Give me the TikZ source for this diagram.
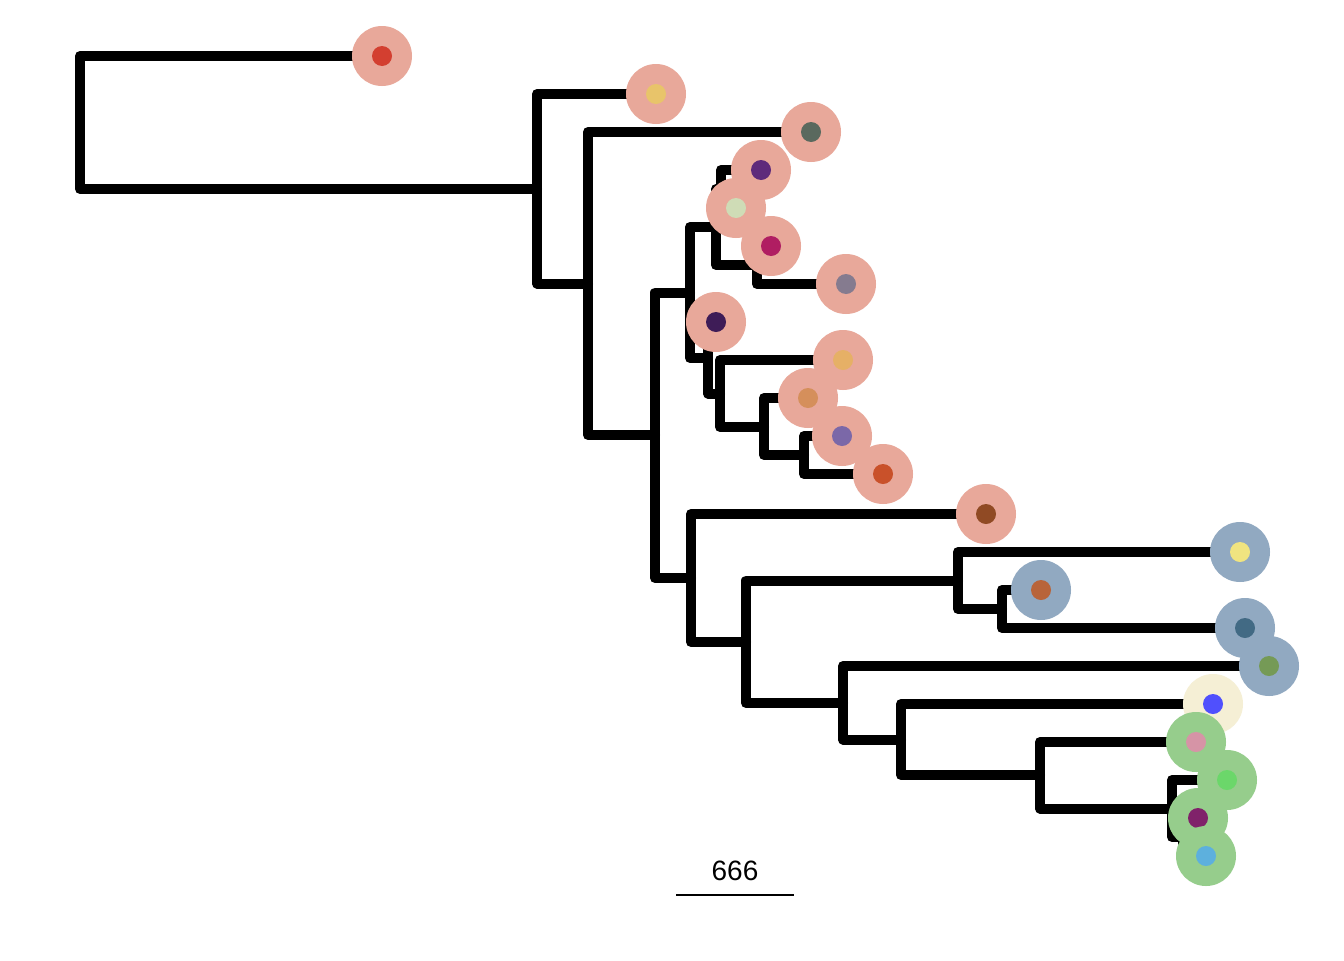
\documentclass[tikz,border=0pt]{standalone}
\usepackage{fontspec}
\setmainfont{Liberation Sans}
\definecolor{haloRed}{HTML}{E8A89A}
\definecolor{haloBlue}{HTML}{91A9C1}
\definecolor{haloCream}{HTML}{F5EFD5}
\definecolor{haloGreen}{HTML}{96CD8C}
\tikzset{
  branch/.style={line width=7.5pt, line join=round, line cap=round, black},
  tip/.style 2 args={circle, fill=#1, minimum size=45pt, inner sep=0pt,
    path picture={\definecolor{dotcol}{HTML}{#2}%
      \fill[fill=dotcol] (path picture bounding box.center) circle (7.5pt);}},
}
\begin{document}
\begin{tikzpicture}[x=0.75pt, y=-0.75pt]
\useasboundingbox[fill=white] (0,0) rectangle (1344,960);

% internal nodes of the tree
\coordinate (root) at (80,122.5);
\coordinate (nA) at (537,189);
\coordinate (nB) at (588,283.5);
\coordinate (nC) at (655,435);
\coordinate (nD) at (690,292.5);
\coordinate (nE) at (716,227);
\coordinate (nF) at (708,358);
\coordinate (nG) at (721,189);
\coordinate (nH) at (757,265);
\coordinate (nI) at (720,393.5);
\coordinate (nJ) at (764,427);
\coordinate (nK) at (804,455);
\coordinate (nL) at (691,578);
\coordinate (nM) at (746,642);
\coordinate (nN) at (958,580.5);
\coordinate (nO) at (1002,609);
\coordinate (nP) at (843,703);
\coordinate (nQ) at (901,739.5);
\coordinate (nR) at (1040,775);
\coordinate (nS) at (1172,808.5);
\coordinate (nT) at (1183,837);

% leaves
\coordinate (l1) at (382,56);
\coordinate (l2) at (656,94);
\coordinate (l3) at (811,132);
\coordinate (l4) at (761,170);
\coordinate (l5) at (736,208);
\coordinate (l6) at (771,246);
\coordinate (l7) at (846,284);
\coordinate (l8) at (716,322);
\coordinate (l9) at (843,360);
\coordinate (l10) at (808,398);
\coordinate (l11) at (842,436);
\coordinate (l12) at (883,474);
\coordinate (l13) at (986,514);
\coordinate (l14) at (1240,552);
\coordinate (l15) at (1041,590);
\coordinate (l16) at (1245,628);
\coordinate (l17) at (1269,666);
\coordinate (l18) at (1213,704);
\coordinate (l19) at (1196,742);
\coordinate (l20) at (1227,780);
\coordinate (l21) at (1198,818);
\coordinate (l22) at (1206,856);

% branches (elbow connectors)
\draw[branch] (l1) -| (root) |- (nA);
\draw[branch] (l2) -| (nA) |- (nB);
\draw[branch] (l3) -| (nB) |- (nC);
\draw[branch] (nD) -| (nC) |- (nL);
\draw[branch] (nE) -| (nD) |- (nF);
\draw[branch] (nG) -| (nE) |- (nH);
\draw[branch] (l4) -| (nG) |- (l5);
\draw[branch] (l6) -| (nH) |- (l7);
\draw[branch] (l8) -| (nF) |- (nI);
\draw[branch] (l9) -| (nI) |- (nJ);
\draw[branch] (l10) -| (nJ) |- (nK);
\draw[branch] (l11) -| (nK) |- (l12);
\draw[branch] (l13) -| (nL) |- (nM);
\draw[branch] (nN) -| (nM) |- (nP);
\draw[branch] (l14) -| (nN) |- (nO);
\draw[branch] (l15) -| (nO) |- (l16);
\draw[branch] (l17) -| (nP) |- (nQ);
\draw[branch] (l18) -| (nQ) |- (nR);
\draw[branch] (l19) -| (nR) |- (nS);
\draw[branch] (l20) -| (nS) |- (nT);
\draw[branch] (l21) -| (nT) |- (l22);

% tip markers
\node[tip={haloRed}{D33F30}]   (t1)  at (l1) {};
\node[tip={haloRed}{E8C46A}]   (t2)  at (l2) {};
\node[tip={haloRed}{5A695E}]   (t3)  at (l3) {};
\node[tip={haloRed}{5E2A7B}]   (t4)  at (l4) {};
\node[tip={haloRed}{CFDCB6}]   (t5)  at (l5) {};
\node[tip={haloRed}{B01E62}]   (t6)  at (l6) {};
\node[tip={haloRed}{857B8F}]   (t7)  at (l7) {};
\node[tip={haloRed}{3E1C57}]   (t8)  at (l8) {};
\node[tip={haloRed}{E6B066}]   (t9)  at (l9) {};
\node[tip={haloRed}{D58F5B}]   (t10) at (l10) {};
\node[tip={haloRed}{7B68A8}]   (t11) at (l11) {};
\node[tip={haloRed}{C9512A}]   (t12) at (l12) {};
\node[tip={haloRed}{904A24}]   (t13) at (l13) {};
\node[tip={haloBlue}{F0E480}]  (t14) at (l14) {};
\node[tip={haloBlue}{B8643A}]  (t15) at (l15) {};
\node[tip={haloBlue}{426A84}]  (t16) at (l16) {};
\node[tip={haloBlue}{759A56}]  (t17) at (l17) {};
\node[tip={haloCream}{5050FD}] (t18) at (l18) {};
\node[tip={haloGreen}{D694A6}] (t19) at (l19) {};
\node[tip={haloGreen}{6BD76A}] (t20) at (l20) {};
\node[tip={haloGreen}{80226A}] (t21) at (l21) {};
\node[tip={haloGreen}{5DB0DD}] (t22) at (l22) {};

% scale bar
\coordinate (sbL) at (676,895);
\coordinate (sbR) at (794,895);
\draw[line width=2pt] (sbL) -- (sbR);
\node[font=\fontsize{21}{25}\selectfont, inner sep=0pt] (sblabel) at (735,871) {666};
\end{tikzpicture}
\end{document}
